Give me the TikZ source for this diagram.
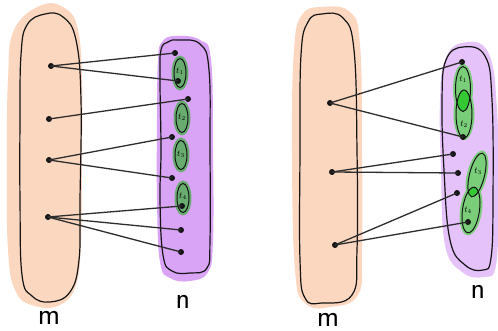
\documentclass[tikz,border=0pt]{standalone}
\usetikzlibrary{shapes.geometric}
\definecolor{peach}{RGB}{251,215,192}
\definecolor{purpA}{RGB}{217,163,246}
\definecolor{purpB}{RGB}{229,194,249}
\definecolor{greenA}{RGB}{104,172,112}
\definecolor{greenB}{RGB}{122,206,122}
\definecolor{greenC}{RGB}{52,200,52}
\definecolor{ink}{RGB}{20,20,20}
\definecolor{wire}{RGB}{45,45,45}
\tikzset{
  dotnode/.style={circle,fill=ink,inner sep=0pt,minimum size=6pt},
  wirel/.style={draw=wire,line width=1.3pt,line cap=round},
  outl/.style={draw=ink,line width=1.2pt},
  tlab/.style={inner sep=0pt,font=\fontsize{9}{9}\selectfont},
  setlab/.style={inner sep=0pt,font=\sffamily\fontsize{30}{30}\selectfont}
}
\begin{document}
\begin{tikzpicture}[x=1pt,y=-1pt]
\useasboundingbox (0,0) rectangle (498,331);
\fill[white] (0,0) rectangle (498,331);
% ---------- left diagram ----------
\fill[peach] plot[smooth cycle,tension=0.7] coordinates {(42,5) (66,9) (78,30) (82,80) (82,160) (81,240) (76,285) (60,305) (35,306) (16,292) (8,250) (7,160) (8,80) (14,30)};
\draw[outl] plot[smooth cycle,tension=0.7] coordinates {(45,14) (63,17) (76,40) (81,100) (80,200) (79,260) (70,292) (50,302) (32,296) (22,275) (20,200) (20,120) (21,55) (27,25)};
\fill[purpA] plot[smooth cycle,tension=0.7] coordinates {(175,36) (200,40) (211,60) (213,150) (213,240) (208,272) (190,281) (170,278) (160,262) (157,200) (157,120) (158,60) (162,42)};
\draw[outl] plot[smooth cycle,tension=0.7] coordinates {(178,40) (200,44) (209,70) (210,150) (210,240) (207,268) (190,273) (172,271) (163,255) (160,200) (161,150) (160,80) (161,50) (168,42)};
% green sets (left)
\foreach \cx/\cy in {180/73, 182/118, 181/155, 183/198}{
  \fill[greenA] (\cx,\cy) ellipse [x radius=8.5, y radius=17.5];
  \draw[outl,line width=1pt] (\cx,\cy) ellipse [x radius=6, y radius=14.5];
}
\node[tlab] (lt1) at (180,71) {$t_1$};
\node[tlab] (lt2) at (182,117) {$t_2$};
\node[tlab] (lt3) at (181,154) {$t_3$};
\node[tlab] (lt4) at (183,196) {$t_4$};
% dots
\node[dotnode] (la) at (51,66) {};
\node[dotnode] (lb) at (49,119) {};
\node[dotnode] (lc) at (49,160) {};
\node[dotnode] (ld) at (48,217) {};
\node[dotnode] (lp1) at (175,53) {};
\node[dotnode] (lp2) at (178,81) {};
\node[dotnode] (lp3) at (188,99) {};
\node[dotnode] (lp4) at (172,137) {};
\node[dotnode] (lp5) at (172,178) {};
\node[dotnode] (lp6) at (182,206) {};
\node[dotnode] (lp7) at (181,230) {};
\node[dotnode] (lp8) at (181,252) {};
\draw[wirel] (la.center) -- (lp1.center);
\draw[wirel] (la.center) -- (lp2.center);
\draw[wirel] (lb.center) -- (lp3.center);
\draw[wirel] (lc.center) -- (lp4.center);
\draw[wirel] (lc.center) -- (lp5.center);
\draw[wirel] (ld.center) -- (lp6.center);
\draw[wirel] (ld.center) -- (lp7.center);
\draw[wirel] (ld.center) -- (lp8.center);
\node[setlab] (lm) at (49,318) {m};
\node[setlab] (ln) at (183,302) {n};
% ---------- right diagram ----------
\fill[peach] plot[smooth cycle,tension=0.7] coordinates {(322,7) (350,12) (360,45) (362,150) (362,250) (358,295) (330,307) (305,303) (295,270) (292,150) (294,50) (302,15)};
\draw[outl] plot[smooth cycle,tension=0.7] coordinates {(322,14) (343,18) (354,50) (357,150) (357,250) (352,295) (322,303) (305,298) (300,260) (300,150) (301,55) (308,22)};
\fill[purpB] plot[smooth cycle,tension=0.7] coordinates {(462,43) (488,52) (497,110) (498,200) (496,265) (484,277) (462,272) (445,245) (441,170) (440,100) (445,60)};
\draw[outl] plot[smooth cycle,tension=0.7] coordinates {(463,47) (485,56) (492,100) (493,200) (491,258) (483,270) (465,265) (450,240) (444,170) (442,100) (446,60)};
% green sets (right)
\fill[greenB] (463,89) ellipse [x radius=10, y radius=25];
\fill[greenB] (464,114) ellipse [x radius=10.5, y radius=26];
\fill[greenB,rotate around={-14:(477,175)}] (477,175) ellipse [x radius=10, y radius=25];
\fill[greenB,rotate around={-8:(471,210)}] (471,210) ellipse [x radius=11, y radius=25.5];
\begin{scope}
  \clip (463,89) ellipse [x radius=7.5, y radius=22.5];
  \fill[greenC] (464,114) ellipse [x radius=8, y radius=24];
\end{scope}
\begin{scope}
  \clip[rotate around={-14:(477,175)}] (477,175) ellipse [x radius=7.5, y radius=22.5];
  \fill[greenC,rotate around={-8:(471,210)}] (471,210) ellipse [x radius=8.5, y radius=23];
\end{scope}
\draw[outl,line width=1pt] (463,89) ellipse [x radius=7.5, y radius=22.5];
\draw[outl,line width=1pt] (464,114) ellipse [x radius=8, y radius=24];
\draw[outl,line width=1pt,rotate around={-14:(477,175)}] (477,175) ellipse [x radius=7.5, y radius=22.5];
\draw[outl,line width=1pt,rotate around={-8:(471,210)}] (471,210) ellipse [x radius=8.5, y radius=23];
\node[tlab] (rt1) at (463,79) {$t_1$};
\node[tlab] (rt2) at (464,124) {$t_2$};
\node[tlab] (rt3) at (478,171) {$t_3$};
\node[tlab] (rt4) at (468,210) {$t_4$};
% dots
\node[dotnode] (ra) at (330,103) {};
\node[dotnode] (rb) at (332,172) {};
\node[dotnode] (rc) at (335,245) {};
\node[dotnode] (rp1) at (462,62) {};
\node[dotnode] (rp2) at (463,137) {};
\node[dotnode] (rp3) at (453,154) {};
\node[dotnode] (rp4) at (458,173) {};
\node[dotnode] (rp5) at (457,193) {};
\node[dotnode] (rp6) at (468,222) {};
\draw[wirel] (ra.center) -- (rp1.center);
\draw[wirel] (ra.center) -- (rp2.center);
\draw[wirel] (rb.center) -- (rp3.center);
\draw[wirel] (rb.center) -- (rp4.center);
\draw[wirel] (rc.center) -- (rp5.center);
\draw[wirel] (rc.center) -- (rp6.center);
\node[setlab] (rm) at (328,320) {m};
\node[setlab] (rn) at (478,292) {n};
\end{tikzpicture}
\end{document}
